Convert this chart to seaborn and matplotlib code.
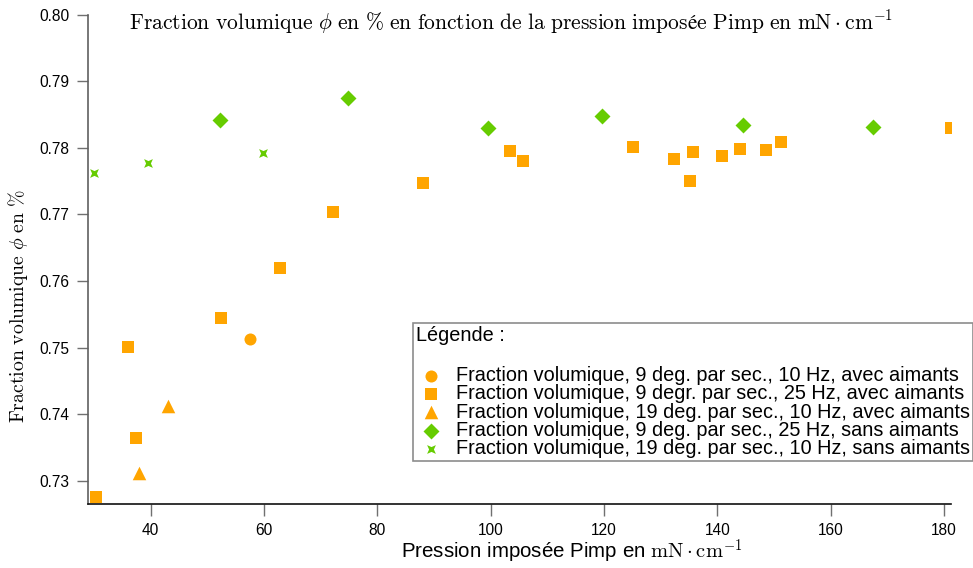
import matplotlib
matplotlib.use("Agg")
import matplotlib.pyplot as plt
import seaborn as sns
from matplotlib.path import Path

# Pression imposée (mN/cm) and fraction volumique for each experimental run
p_9deg_10hz_avec = [57.5]
phi_9deg_10hz_avec = [0.7513]

p_9deg_25hz_avec = [30.35, 36.0, 37.4, 52.4, 62.8, 72.2, 88.1, 103.4, 105.7,
                    125.1, 132.3, 135.1, 135.7, 140.8, 144.0, 148.6, 151.2, 181.2]
phi_9deg_25hz_avec = [0.7275, 0.7501, 0.7364, 0.7544, 0.7620, 0.7704, 0.7747, 0.7795, 0.7780,
                      0.7801, 0.7783, 0.7750, 0.7794, 0.7788, 0.7798, 0.7797, 0.7809, 0.7830]

p_19deg_10hz_avec = [37.9, 43.1]
phi_19deg_10hz_avec = [0.7312, 0.7412]

p_9deg_25hz_sans = [52.2, 74.8, 99.5, 119.7, 144.5, 167.5]
phi_9deg_25hz_sans = [0.7842, 0.7875, 0.7830, 0.7848, 0.7834, 0.7831]

p_19deg_10hz_sans = [30.0, 39.5, 59.8]
phi_19deg_10hz_sans = [0.7762, 0.7777, 0.7792]

series_labels = [
    "Fraction volumique, 9 deg. par sec., 10 Hz, avec aimants",
    "Fraction volumique, 9 degr. par sec., 25 Hz, avec aimants",
    "Fraction volumique, 19 deg. par sec., 10 Hz, avec aimants",
    "Fraction volumique, 9 deg. par sec., 25 Hz, sans aimants",
    "Fraction volumique, 19 deg. par sec., 10 Hz, sans aimants",
]

x_ticks = [40, 60, 80, 100, 120, 140, 160, 180]
y_ticks = [0.73, 0.74, 0.75, 0.76, 0.77, 0.78, 0.79, 0.80]

sns.set_style("ticks")
plt.rcParams["font.family"] = ["Liberation Sans", "DejaVu Sans"]
plt.rcParams["mathtext.fontset"] = "cm"
plt.rcParams["text.color"] = "black"
plt.rcParams["axes.labelcolor"] = "black"
plt.rcParams["xtick.color"] = "black"
plt.rcParams["ytick.color"] = "black"

ORANGE = "#FFA500"
GREEN = "#66CC00"

# four-pointed star with concave sides
star4 = Path([(-1, -1), (0, -0.55), (1, -1), (0.55, 0), (1, 1), (0, 0.55),
              (-1, 1), (-0.55, 0), (-1, -1)],
             [Path.MOVETO] + [Path.LINETO] * 7 + [Path.CLOSEPOLY])

fig = plt.figure(figsize=(9.73, 5.68), dpi=100)
ax = fig.add_axes([87.7 / 973, 1 - 503.7 / 568, (951 - 87.7) / 973, (503.7 - 14.7) / 568])

series = [
    (p_9deg_10hz_avec, phi_9deg_10hz_avec, "o", ORANGE, 75),
    (p_9deg_25hz_avec, phi_9deg_25hz_avec, "s", ORANGE, 72),
    (p_19deg_10hz_avec, phi_19deg_10hz_avec, "^", ORANGE, 95),
    (p_9deg_25hz_sans, phi_9deg_25hz_sans, "D", GREEN, 66),
    (p_19deg_10hz_sans, phi_19deg_10hz_sans, star4, GREEN, 40),
]
for (xs, ys, mk, col, size), lab in zip(series, series_labels):
    sns.scatterplot(x=xs, y=ys, marker=mk, color=col, s=size, linewidth=0,
                    ax=ax, label=lab, legend=False, zorder=3)

ax.set_xlim(28.88, 181.25)
ax.set_ylim(0.72654, 0.80)
ax.set_xticks(x_ticks)
ax.set_yticks(y_ticks)
ax.set_xticklabels([str(t) for t in x_ticks])
ax.set_yticklabels([f"{t:.2f}" for t in y_ticks])

for s in ("top", "right"):
    ax.spines[s].set_visible(False)
ax.spines["left"].set_color("#606060")
ax.spines["bottom"].set_color("#111111")
ax.spines["left"].set_linewidth(1.2)
ax.spines["bottom"].set_linewidth(1.2)
ax.tick_params(axis="y", direction="out", length=8, width=1.0, color="#707070",
               labelcolor="black", labelsize=11.2, pad=5)
ax.tick_params(axis="x", direction="out", length=8.6, width=1.0, color="#707070",
               labelcolor="black", labelsize=11.2, pad=5)

fig.text(511 / 973, 1 - 22 / 568,
         r"$\mathrm{Fraction\ volumique}\ \phi\ \mathrm{en}\ \%\ "
         r"\mathrm{en\ fonction\ de\ la\ pression\ imposée\ Pimp\ en}\ "
         r"\mathrm{mN}\cdot\mathrm{cm}^{-1}$",
         ha="center", va="center", fontsize=15.5)
fig.text(18 / 973, 1 - 306 / 568,
         r"$\mathrm{Fraction\ volumique}\ \phi\ \mathrm{en}\ \%$",
         ha="center", va="center", rotation=90, fontsize=14.2)
fig.text(572 / 973, 1 - 552 / 568,
         r"Pression imposée Pimp en $\mathrm{mN}\cdot\mathrm{cm}^{-1}$",
         ha="center", va="center", fontsize=14.8)

handles, labels = ax.get_legend_handles_labels()
leg = fig.legend(handles, labels, title="Légende :\n", loc="upper left",
                 bbox_to_anchor=(413 / 973, 1 - 323 / 568), borderaxespad=0,
                 fontsize=14.3, title_fontsize=14.3, alignment="left",
                 borderpad=0.15, handlelength=1.5, handletextpad=0.5,
                 labelspacing=-0.04, fancybox=False, frameon=True,
                 labelcolor="black")
leg.get_title().set_color("black")
leg.get_frame().set_edgecolor("#707070")
leg.get_frame().set_linewidth(1.2)

fig.savefig("out.png", dpi=100)
